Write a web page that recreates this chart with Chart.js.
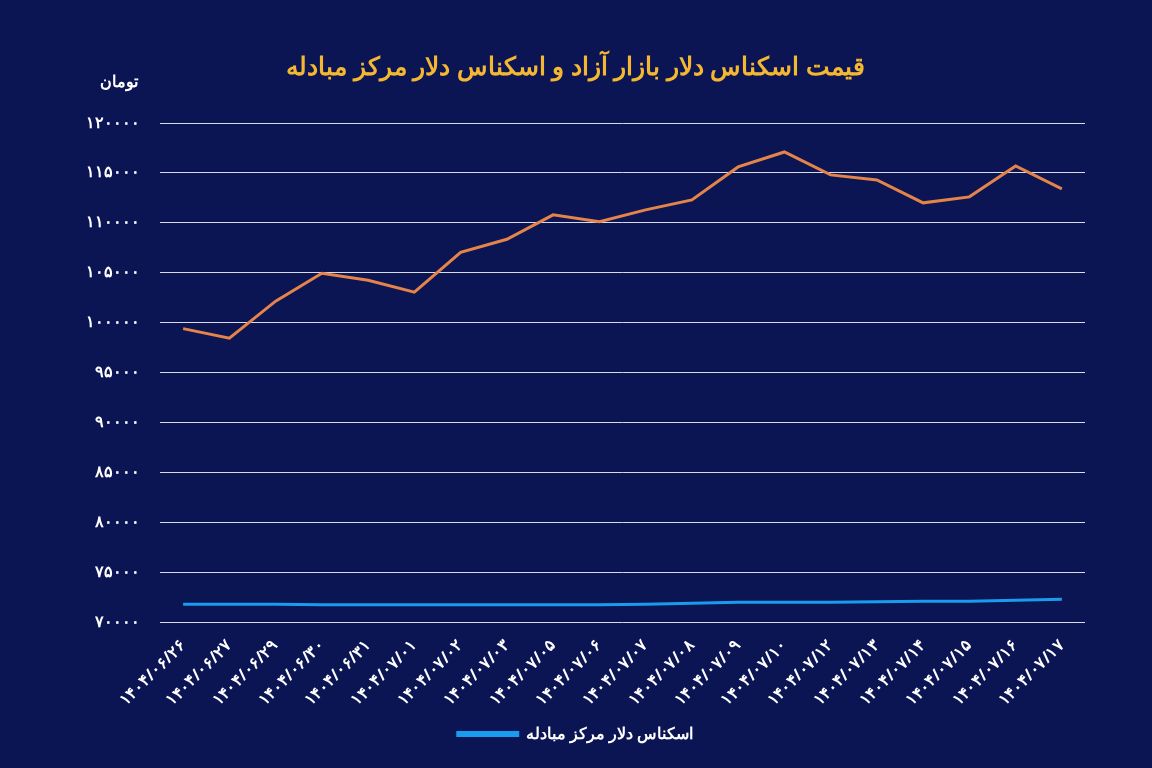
<!DOCTYPE html>
<html>
<head>
<meta charset="utf-8">
<script src="https://cdn.jsdelivr.net/npm/chart.js@4"></script>
<style>
  html, body { margin: 0; padding: 0; background: #0b1553; }
  #wrap { position: relative; width: 1152px; height: 768px; }
  #unit { position: absolute; left: 100px; top: 70px; color: #fff; font: bold 16px "Noto Sans", sans-serif; }
</style>
</head>
<body>
<div id="wrap">
  <div id="unit">تومان</div>
  <canvas id="c" width="1152" height="768"></canvas>
</div>
<script>
var labels = ['1404/06/26','1404/06/27','1404/06/29','1404/06/30','1404/06/31','1404/07/01','1404/07/02',
  '1404/07/03','1404/07/05','1404/07/06','1404/07/07','1404/07/08','1404/07/09','1404/07/10',
  '1404/07/12','1404/07/13','1404/07/14','1404/07/15','1404/07/16','1404/07/17'];
var freeMarket = [99400, 98450, 102150, 104950, 104250, 103050, 107050, 108350, 110800, 110100,
  111300, 112300, 115600, 117100, 114800, 114300, 112000, 112600, 115700, 113400];
var exchangeCenter = [71800, 71800, 71800, 71750, 71750, 71750, 71750, 71750, 71750, 71750,
  71800, 71900, 72000, 72000, 72000, 72050, 72100, 72100, 72200, 72300];
var yTicks = [70000, 75000, 80000, 85000, 90000, 95000, 100000, 105000, 110000, 115000, 120000];

function fa(s) {
    return String(s).replace(/[0-9]/g, function(d) { return '۰۱۲۳۴۵۶۷۸۹'[d]; });
}

new Chart(document.getElementById('c'), {
    type: 'line',
    data: {
        labels: labels.map(fa),
        datasets: [
            { label: 'اسکناس دلار بازار آزاد', data: freeMarket, borderColor: '#e5844a', borderWidth: 3, pointRadius: 0, tension: 0 },
            { label: 'اسکناس دلار مرکز مبادله', data: exchangeCenter, borderColor: '#1a9bf0', borderWidth: 3, pointRadius: 0, tension: 0 }
        ]
    },
    options: {
        responsive: false,
        animation: false,
        layout: { padding: { left: 66, right: 67, top: 43, bottom: 16 } },
        plugins: {
            title: {
                display: true,
                text: 'قیمت اسکناس دلار بازار آزاد و اسکناس دلار مرکز مبادله',
                color: '#f4b731',
                font: { size: 25, weight: 'bold', family: 'Noto Sans' },
                padding: { top: 10, bottom: 40 }
            },
            legend: {
                position: 'bottom',
                labels: {
                    color: '#fff',
                    padding: 10,
                    font: { size: 16, weight: 'bold', family: 'Noto Sans' },
                    boxWidth: 60, boxHeight: 3,
                    filter: function(item) { return item.datasetIndex === 1; }
                }
            },
            tooltip: { enabled: false }
        },
        scales: {
            y: {
                min: 70000, max: 120000,
                afterBuildTicks: function(axis) { axis.ticks = yTicks.map(function(v) { return { value: v }; }); },
                grid: { color: 'rgba(255,255,255,0.85)', drawTicks: false },
                border: { display: false },
                ticks: { color: '#fff', padding: 20, font: { size: 16, weight: 'bold', family: 'Noto Sans' }, callback: function(v) { return fa(v); } }
            },
            x: {
                offset: true,
                grid: { display: false },
                border: { display: false },
                ticks: { color: '#fff', maxRotation: 45, minRotation: 45, autoSkip: false, padding: 6, font: { size: 16, weight: 'bold', family: 'Noto Sans' } }
            }
        }
    }
});
</script>
</body>
</html>
